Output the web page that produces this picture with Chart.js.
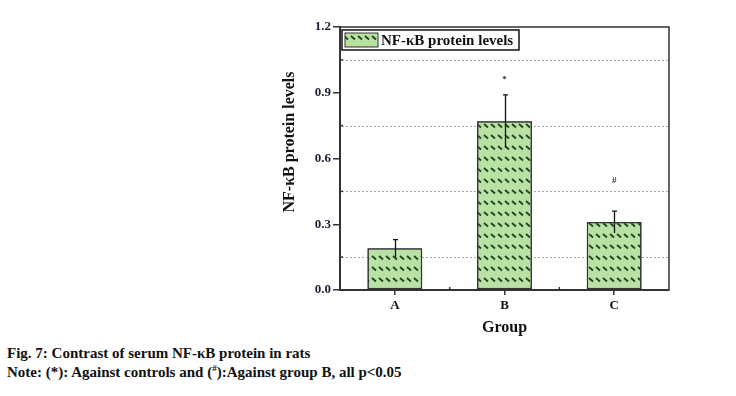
<!DOCTYPE html>
<html>
<head>
<meta charset="utf-8">
<script src="https://cdn.jsdelivr.net/npm/chart.js@4.4.1/dist/chart.umd.min.js"></script>
<style>
  html, body { margin: 0; padding: 0; background: #fff; }
  body { width: 736px; height: 396px; position: relative; overflow: hidden; font-family: "Liberation Serif", "DejaVu Serif", serif; }
  #wrap { position: absolute; left: 0; top: 0; width: 736px; height: 345px; }
  .cap { position: absolute; left: 7px; font-weight: bold; font-size: 15px; line-height: 17px; color: #111; white-space: nowrap; }
</style>
</head>
<body>
<div id="wrap"><canvas id="c"></canvas></div>
<div class="cap" style="top:345px;">Fig. 7: Contrast of serum NF-κB protein in rats</div>
<div class="cap" style="top:364px;">Note: (*): Against controls and (<sup style="font-size:9px;line-height:0;">#</sup>):Against group B, all p&lt;0.05</div>
<script>
const groups = ['A', 'B', 'C'];
const levels = [0.19, 0.77, 0.31];
const errors = [0.04, 0.12, 0.05];
const marks = ['', '*', '#'];
const markLevels = [null, 0.96, 0.50];
const yTicks = [0, 0.3, 0.6, 0.9, 1.2];
const minorLevels = [0.15, 0.45, 0.75, 1.05];
const seriesName = 'NF-κB protein levels';
const yTitle = 'NF-κB protein levels';
const xTitle = 'Group';

function makeHatch() {
  const t = document.createElement('canvas');
  t.width = 7; t.height = 11;
  const g = t.getContext('2d');
  g.fillStyle = '#b9e1a4';
  g.fillRect(0, 0, 7, 11);
  g.strokeStyle = '#1f421f';
  g.lineWidth = 1.8;
  g.lineCap = 'butt';
  g.beginPath();
  g.moveTo(1, 3); g.lineTo(5, 6.5);
  g.stroke();
  return document.getElementById('c').getContext('2d').createPattern(t, 'repeat');
}
const hatch = makeHatch();
const serif = '"Liberation Serif", "DejaVu Serif", serif';

const extras = {
  id: 'extras',
  afterDatasetsDraw(chart) {
    const ctx = chart.ctx, a = chart.chartArea;
    const x = chart.scales.x, y = chart.scales.y;
    ctx.save();
    // dotted grid lines at minor levels
    ctx.strokeStyle = '#a8a8a8';
    ctx.lineWidth = 1;
    ctx.setLineDash([2, 2]);
    minorLevels.forEach(v => {
      const py = Math.round(y.getPixelForValue(v)) + 0.5;
      ctx.beginPath(); ctx.moveTo(a.left + 2, py); ctx.lineTo(a.right, py); ctx.stroke();
    });
    ctx.setLineDash([]);
    // redraw bars over grid
    const meta = chart.getDatasetMeta(0);
    meta.data.forEach(el => el.draw(ctx));
    // minor ticks on y axis
    ctx.strokeStyle = '#333';
    ctx.lineWidth = 1.5;
    minorLevels.forEach(v => {
      const py = y.getPixelForValue(v);
      ctx.beginPath(); ctx.moveTo(a.left, py); ctx.lineTo(a.left + 3, py); ctx.stroke();
    });
    // minor ticks on x axis between categories
    for (let i = 0; i < groups.length - 1; i++) {
      const px = (x.getPixelForValue(i) + x.getPixelForValue(i + 1)) / 2;
      ctx.beginPath(); ctx.moveTo(px, a.bottom); ctx.lineTo(px, a.bottom - 3); ctx.stroke();
    }
    // frame top and right
    ctx.strokeStyle = '#333';
    ctx.lineWidth = 1.5;
    ctx.beginPath();
    ctx.moveTo(a.left, a.top); ctx.lineTo(a.right, a.top); ctx.lineTo(a.right, a.bottom);
    ctx.stroke();
    // error bars
    ctx.strokeStyle = '#111';
    ctx.lineWidth = 1.3;
    levels.forEach((v, i) => {
      const px = Math.round(x.getPixelForValue(i)) + 0.5;
      const top = y.getPixelForValue(v + errors[i]);
      const bot = y.getPixelForValue(v - errors[i]);
      ctx.beginPath();
      ctx.moveTo(px, bot); ctx.lineTo(px, top);
      ctx.moveTo(px - 2.5, top); ctx.lineTo(px + 2.5, top);
      ctx.stroke();
    });
    // significance marks
    ctx.fillStyle = '#2a3550';
    ctx.font = 'bold 9px ' + serif;
    ctx.textAlign = 'center';
    ctx.textBaseline = 'middle';
    marks.forEach((m, i) => {
      if (!m) return;
      ctx.fillText(m, x.getPixelForValue(i), y.getPixelForValue(markLevels[i]));
    });
    // legend
    const lx = a.left + 2, ly = a.top + 3, lw = 177, lh = 20;
    ctx.fillStyle = '#fff';
    ctx.fillRect(lx, ly, lw, lh);
    ctx.strokeStyle = '#111';
    ctx.lineWidth = 1.5;
    ctx.strokeRect(lx, ly, lw, lh);
    ctx.fillStyle = hatch;
    ctx.fillRect(lx + 3, ly + 3, 33, 14);
    ctx.lineWidth = 1;
    ctx.strokeStyle = '#333';
    ctx.strokeRect(lx + 3, ly + 3, 33, 14);
    ctx.fillStyle = '#111';
    ctx.font = 'bold 15px ' + serif;
    ctx.textAlign = 'left';
    ctx.fillText(seriesName, lx + 39, ly + lh / 2 + 1);
    // y title
    ctx.save();
    ctx.translate(290, 142);
    ctx.rotate(-Math.PI / 2);
    ctx.font = 'bold 16px ' + serif;
    ctx.fillStyle = '#111';
    ctx.textAlign = 'center';
    ctx.textBaseline = 'middle';
    ctx.fillText(yTitle, 0, 0);
    ctx.restore();
    ctx.restore();
  }
};

new Chart(document.getElementById('c'), {
  type: 'bar',
  data: {
    labels: groups,
    datasets: [{
      label: seriesName,
      data: levels,
      backgroundColor: hatch,
      borderColor: '#333',
      borderWidth: 1.5,
      borderSkipped: false,
      barPercentage: 0.5,
      categoryPercentage: 1.0
    }]
  },
  options: {
    responsive: true,
    maintainAspectRatio: false,
    animation: false,
    layout: { padding: { left: 280, right: 67, top: 27, bottom: 8 } },
    plugins: { legend: { display: false }, tooltip: { enabled: false } },
    scales: {
      x: {
        grid: { display: true, drawOnChartArea: false, drawTicks: true, tickLength: 5, offset: false, color: '#333', lineWidth: 1.5 },
        border: { display: true, color: '#333', width: 2 },
        ticks: { color: '#111', padding: 3, font: { family: serif, size: 13, weight: 'bold' } },
        title: { display: true, text: xTitle, color: '#111', padding: { top: 4, bottom: 0 }, font: { family: serif, size: 16, weight: 'bold' } },
        afterFit(s) { s.height = 47; }
      },
      y: {
        min: 0, max: 1.2,
        afterBuildTicks(s) { s.ticks = yTicks.map(v => ({ value: v })); },
        grid: { display: true, drawOnChartArea: false, drawTicks: true, tickLength: 7, color: '#333', lineWidth: 1.5 },
        border: { display: true, color: '#333', width: 2 },
        ticks: { color: '#1a1f33', padding: 2, font: { family: serif, size: 13, weight: 'bold' }, callback: v => Number(v).toFixed(1) },
        title: { display: false },
        afterFit(s) { s.width = 60; }
      }
    }
  },
  plugins: [extras]
});
</script>
</body>
</html>
